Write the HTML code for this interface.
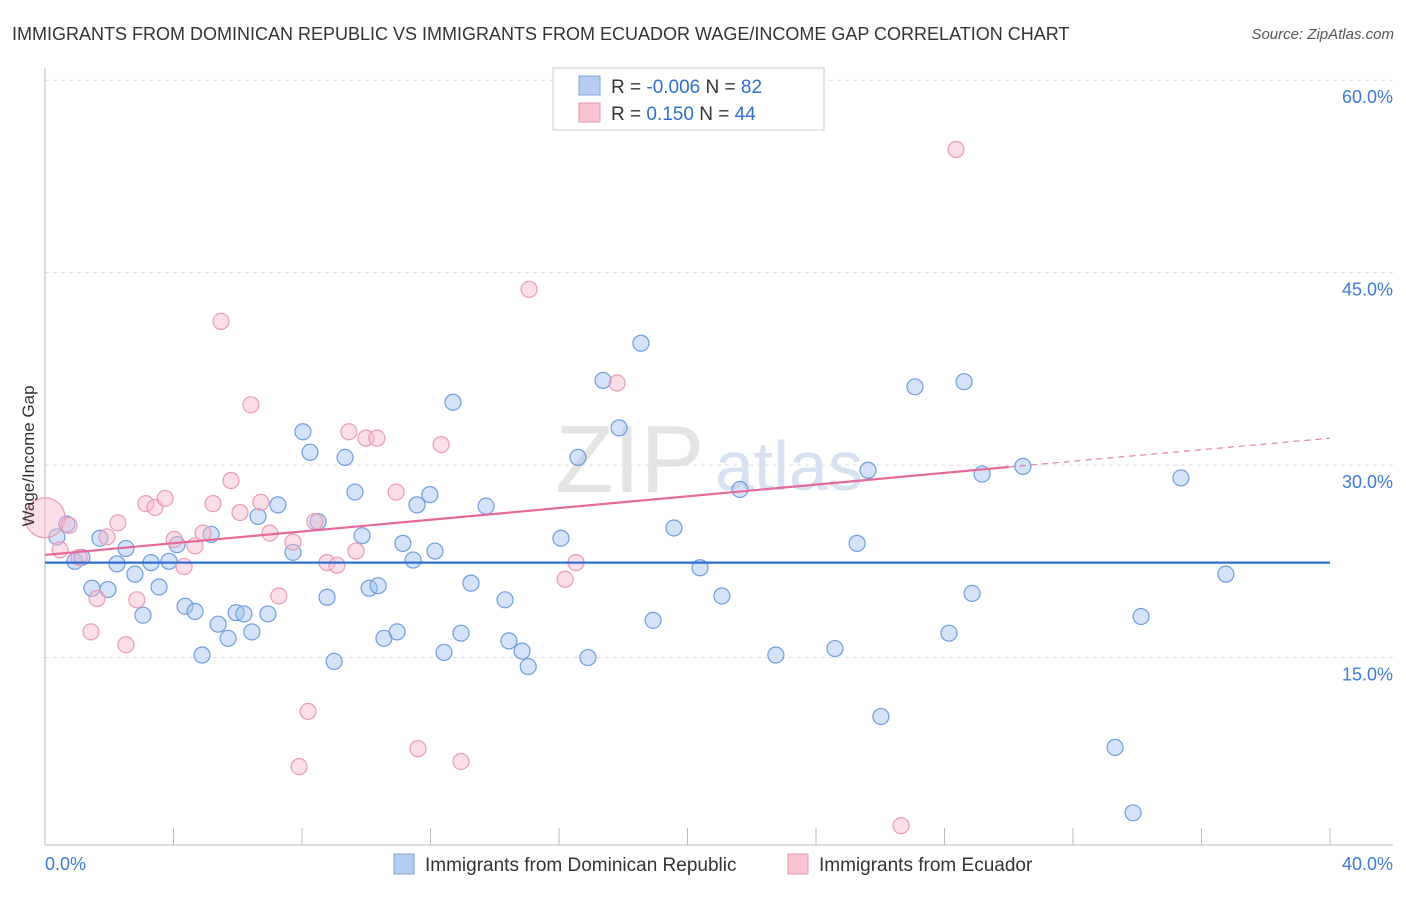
<!DOCTYPE html>
<html><head><meta charset="utf-8"><style>
body{margin:0;background:#fff;font-family:"Liberation Sans",sans-serif;}
svg text{font-family:"Liberation Sans",sans-serif;}
</style></head><body>
<svg id="chart" width="1406" height="892" xmlns="http://www.w3.org/2000/svg">
<text x="12" y="40" font-size="18" fill="#333">IMMIGRANTS FROM DOMINICAN REPUBLIC VS IMMIGRANTS FROM ECUADOR WAGE/INCOME GAP CORRELATION CHART</text>
<text x="1394" y="39" font-size="15" fill="#555" text-anchor="end" font-style="italic">Source: ZipAtlas.com</text>
<text x="555" y="492" font-size="96" fill="#e4e4e4" font-family="Liberation Serif">ZIP</text>
<text x="715" y="490" font-size="70" fill="#d6e2f2">atlas</text>
<g id="grid"></g>
<g id="axes"></g>
<g id="marks"></g>
<g>
<rect x="553" y="68" width="271" height="62" fill="#fff" stroke="#ccc"/>
<rect x="579" y="76" width="21" height="19" fill="#b5cdf0" stroke="#7fa6dc"/>
<rect x="579" y="103" width="21" height="19" fill="#f8c4d2" stroke="#e896b0"/>
<text x="611" y="93" font-size="19" fill="#333">R = <tspan fill="#2f6fce">-0.006</tspan>   N = <tspan fill="#2f6fce">82</tspan></text>
<text x="611" y="120" font-size="19" fill="#333">R =   <tspan fill="#2f6fce">0.150</tspan>   N = <tspan fill="#2f6fce">44</tspan></text>
</g>
<text transform="translate(34,456) rotate(-90)" font-size="17" fill="#333" text-anchor="middle">Wage/Income Gap</text>
<text x="45" y="870" font-size="18" fill="#3d7bd6">0.0%</text>
<text x="1393" y="870" font-size="18" fill="#3d7bd6" text-anchor="end">40.0%</text>
<g>
<rect x="394" y="854" width="20" height="20" fill="#b5cdf0" stroke="#7fa6dc"/>
<text x="425" y="871" font-size="19" fill="#333">Immigrants from Dominican Republic</text>
<rect x="788" y="854" width="20" height="20" fill="#f8c4d2" stroke="#e896b0"/>
<text x="819" y="871" font-size="19" fill="#333">Immigrants from Ecuador</text>
</g>
</svg>
<script>
const yTicks=[15,30,45,60];
const xTicks=[0,4,8,12,16,20,24,28,32,36,40];
const blueX=[0.37,0.68,0.93,1.15,1.46,1.71,1.96,2.24,2.52,2.80,3.05,3.30,3.55,3.86,4.11,4.36,4.67,4.89,5.17,5.39,5.70,5.95,6.19,6.44,6.63,6.94,7.25,7.72,8.03,8.25,8.50,8.78,9.00,9.34,9.65,9.87,10.09,10.37,10.55,10.96,11.14,11.46,11.58,11.98,12.14,12.42,12.70,12.95,13.26,13.73,14.32,14.44,14.85,15.04,16.06,16.59,16.90,17.37,17.87,18.55,18.93,19.58,20.39,21.07,21.63,22.75,24.59,25.28,25.62,26.02,27.08,28.14,28.61,28.86,29.17,30.44,33.31,33.87,34.12,35.36,36.76];
const blueY=[24.4,25.4,22.5,22.8,20.4,24.3,20.3,22.3,23.5,21.5,18.3,22.4,20.5,22.5,23.8,19.0,18.6,15.2,24.6,17.6,16.5,18.5,18.4,17.0,26.0,18.4,26.9,23.2,32.6,31.0,25.6,19.7,14.7,30.6,27.9,24.5,20.4,20.6,16.5,17.0,23.9,22.6,26.9,27.7,23.3,15.4,34.9,16.9,20.8,26.8,19.5,16.3,15.5,14.3,24.3,30.6,15.0,36.6,32.9,39.5,17.9,25.1,22.0,19.8,28.1,15.2,15.7,23.9,29.6,10.4,36.1,16.9,36.5,20.0,29.3,29.9,8.0,2.9,18.2,29.0,21.5];
const pinkX=[0,0.47,0.75,1.06,1.43,1.62,1.93,2.27,2.52,2.86,3.14,3.42,3.74,4.02,4.33,4.67,4.92,5.23,5.48,5.79,6.07,6.41,6.72,7.00,7.28,7.72,7.91,8.19,8.40,8.78,9.09,9.46,9.68,9.99,10.33,10.93,11.61,12.33,12.95,15.07,16.19,16.53,17.81,26.65,28.36];
const pinkY=[25.9,23.4,25.3,22.8,17.0,19.6,24.4,25.5,16.0,19.5,27.0,26.7,27.4,24.2,22.1,23.7,24.7,27.0,41.2,28.8,26.3,34.7,27.1,24.7,19.8,24.0,6.5,10.8,25.6,22.4,22.2,32.6,23.3,32.1,32.1,27.9,7.9,31.6,6.9,43.7,21.1,22.4,36.4,1.9,54.6];
const blueTrend=[22.4,22.4];
const pinkTrend=[23.0,29.85,32.1];
const pinkTrendX=[0,30,40];
const NS="http://www.w3.org/2000/svg";
const X=v=>45+v*32.125, Y=v=>850-v*12.83;
function mk(tag,attrs,parent){const e=document.createElementNS(NS,tag);for(const k in attrs)e.setAttribute(k,attrs[k]);document.getElementById(parent).appendChild(e);return e;}
yTicks.forEach(t=>{
 const l=mk('line',{x1:45,x2:1393,y1:Y(t),y2:Y(t),stroke:'#ddd','stroke-dasharray':'4,4'},'grid');
 
 
 const tx=mk('text',{x:1393,y:Y(t)+23,'font-size':18,fill:'#3d7bd6','text-anchor':'end'},'grid');tx.textContent=t.toFixed(1)+'%';
 
 
});
let a=mk('line',{x1:45,x2:45,y1:68,y2:845,stroke:'#bbb'},'axes');


a=mk('line',{x1:45,x2:1393,y1:845,y2:845,stroke:'#bbb'},'axes');


xTicks.forEach(t=>{const l=mk('line',{x1:X(t),x2:X(t),y1:828,y2:845,stroke:'#bbb'},'axes');
 
 });
blueX.forEach((x,i)=>{const c=mk('circle',{cx:X(x),cy:Y(blueY[i]),r:8,fill:'rgba(160,192,238,0.45)',stroke:'#6f9de0','stroke-width':1.2},'marks');
 
 });
pinkX.forEach((x,i)=>{const c=mk('circle',{cx:X(x),cy:Y(pinkY[i]),r:i===0?20:8,fill:'rgba(246,184,204,0.45)',stroke:'#ec9ab6','stroke-width':1.2},'marks');
 
 });
let t=mk('line',{x1:X(0),x2:X(40),y1:Y(blueTrend[0]),y2:Y(blueTrend[1]),stroke:'#2f6fce','stroke-width':2.2},'marks');


t=mk('line',{x1:X(pinkTrendX[0]),x2:X(pinkTrendX[1]),y1:Y(pinkTrend[0]),y2:Y(pinkTrend[1]),stroke:'#e5699a','stroke-width':2.2},'marks');


t=mk('line',{x1:X(pinkTrendX[1]),x2:X(pinkTrendX[2]),y1:Y(pinkTrend[1]),y2:Y(pinkTrend[2]),stroke:'#e5699a','stroke-width':1,'stroke-dasharray':'6,5'},'marks');


</script>
</body></html>
